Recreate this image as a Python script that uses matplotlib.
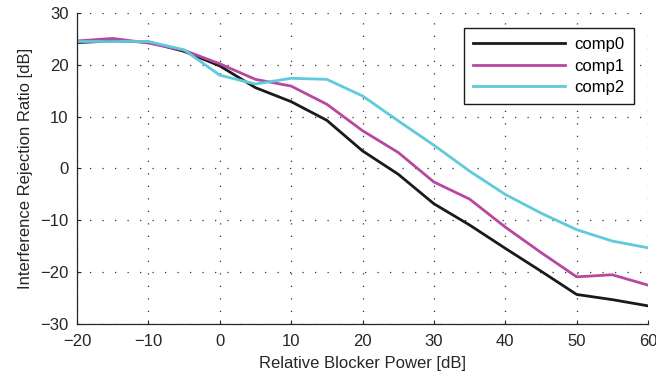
import matplotlib
matplotlib.use("Agg")
import matplotlib.pyplot as plt

x_db = [-20, -15, -10, -5, 0, 5, 10, 15, 20, 25, 30, 35, 40, 45, 50, 55, 60]
comp0 = [24.3, 24.6, 24.4, 22.6, 19.8, 15.6, 12.9, 9.3, 3.4, -1.1, -6.8, -10.9, -15.4, -19.8, -24.3, -25.3, -26.5]
comp1 = [24.6, 25.1, 24.2, 22.8, 20.2, 17.2, 15.9, 12.4, 7.3, 3.1, -2.6, -5.9, -11.3, -16.2, -20.9, -20.5, -22.5]
comp2 = [24.5, 24.5, 24.5, 22.9, 18.0, 16.3, 17.4, 17.2, 14.0, 9.2, 4.5, -0.5, -5.0, -8.6, -11.8, -14.0, -15.3]
series_names = ["comp0", "comp1", "comp2"]
colors = ["#1a1a1a", "#b8489f", "#5fcadb"]
xticks = [-20, -10, 0, 10, 20, 30, 40, 50, 60]
yticks = [-30, -20, -10, 0, 10, 20, 30]

plt.rcParams['font.family'] = ['Liberation Sans', 'DejaVu Sans']
plt.rcParams['axes.unicode_minus'] = True

fig = plt.figure(figsize=(6.56, 3.79), dpi=100)
ax = fig.add_axes([77/656, 1 - 324/379, 571/656, 311/379])

for name, vals, c in zip(series_names, [comp0, comp1, comp2], colors):
    ax.plot(x_db, vals, color=c, lw=2.0, label=name)

ax.set_xlim(-20, 60)
ax.set_ylim(-30, 30)
ax.set_xticks(xticks)
ax.set_yticks(yticks)
ax.tick_params(direction='in', labelsize=12, length=3, width=0.8, top=False, right=False, colors='#262626')
ax.tick_params(axis='x', pad=7)
ax.tick_params(axis='y', pad=6)
ax.grid(True, linestyle=(0, (1, 9)), color='#333333', linewidth=0.9)
for s in ['top', 'right']:
    ax.spines[s].set_visible(False)
for s in ['left', 'bottom']:
    ax.spines[s].set_color('#262626')
    ax.spines[s].set_linewidth(0.9)

ax.set_xlabel('Relative Blocker Power [dB]', fontsize=12, color='#262626', labelpad=5)
ax.set_ylabel('Interference Rejection Ratio [dB]', fontsize=12, color='#262626', labelpad=5)

leg = ax.legend(loc='upper right', bbox_to_anchor=(0.9755, 0.9527), borderaxespad=0, fontsize=12,
                frameon=True, fancybox=False, edgecolor='#1a1a1a', framealpha=1,
                handlelength=5.5, borderpad=0.55, labelspacing=0.4, handletextpad=0.6)
leg.get_frame().set_linewidth(1.0)

fig.savefig('out.png', dpi=100)
